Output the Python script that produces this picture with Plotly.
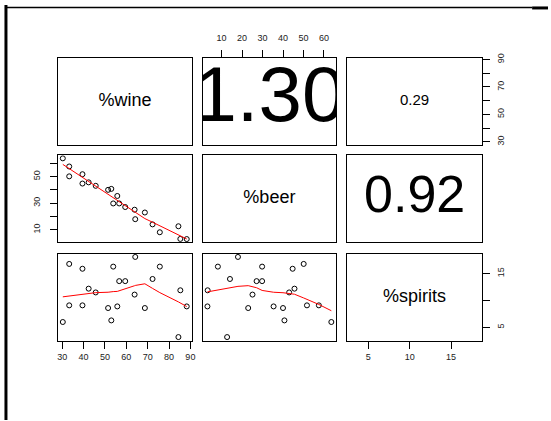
import numpy as np
import plotly.graph_objects as go

# Beverage shares (percent of total alcohol) for 21 countries
wine = [30.3, 33.3, 33.3, 39.5, 39.5, 42.4, 45.7, 51.5, 53.0, 53.9, 55.8,
        56.7, 59.5, 63.9, 64.2, 68.7, 72.3, 75.7, 84.4, 85.3, 88.3]
beer = [63.6, 57.5, 50.1, 51.7, 44.7, 45.6, 43.0, 40.0, 40.7, 29.8, 35.4,
        29.8, 27.1, 25.1, 18.0, 23.0, 14.1, 8.2, 12.7, 3.2, 3.1]
spirits = [6.0, 9.1, 16.8, 9.1, 15.9, 12.2, 11.5, 8.6, 6.3, 16.3, 8.9,
           13.6, 13.6, 11.1, 18.1, 8.6, 14.0, 16.3, 3.2, 11.9, 8.9]

var_names = ["%wine", "%beer", "%spirits"]
upper_text = {(0, 1): "1.30", (0, 2): "0.29", (1, 2): "0.92"}

wine_ticks = [30, 40, 50, 60, 70, 80, 90]
beer_ticks = [10, 20, 30, 40, 50, 60]
spirits_ticks = [5, 10, 15]


def lowess(x, y, f=2 / 3, nsteps=3, delta=None):
    """Port of the classic clowess smoother (as used by R's lowess)."""
    x = np.asarray(x, float)
    y = np.asarray(y, float)
    o = np.argsort(x, kind="stable")
    x, y = x[o], y[o]
    n = len(x)
    if delta is None:
        delta = 0.01 * (x[-1] - x[0])
    X = np.concatenate([[0.0], x])
    Y = np.concatenate([[0.0], y])
    ys = np.zeros(n + 1)
    rw = np.ones(n + 1)
    w = np.zeros(n + 1)
    res = np.zeros(n + 1)
    ns = max(2, min(n, int(f * n + 1e-7)))

    def lowest(xs, nleft, nright, userw):
        rng = X[n] - X[1]
        h = max(xs - X[nleft], X[nright] - xs)
        h9, h1 = 0.999 * h, 0.001 * h
        a = 0.0
        j = nleft
        while j <= n:
            w[j] = 0.0
            r = abs(X[j] - xs)
            if r <= h9:
                w[j] = 1.0 if r <= h1 else (1 - (r / h) ** 3) ** 3
                if userw:
                    w[j] *= rw[j]
                a += w[j]
            elif X[j] > xs:
                break
            j += 1
        nrt = j - 1
        if a <= 0:
            return None
        for j in range(nleft, nrt + 1):
            w[j] /= a
        if h > 0:
            a = sum(w[j] * X[j] for j in range(nleft, nrt + 1))
            b = xs - a
            c = sum(w[j] * (X[j] - a) ** 2 for j in range(nleft, nrt + 1))
            if np.sqrt(c) > 0.001 * rng:
                b /= c
                for j in range(nleft, nrt + 1):
                    w[j] *= b * (X[j] - a) + 1.0
        return sum(w[j] * Y[j] for j in range(nleft, nrt + 1))

    it = 1
    while it <= nsteps + 1:
        nleft, nright, last, i = 1, ns, 0, 1
        while True:
            if nright < n:
                d1 = X[i] - X[nleft]
                d2 = X[nright + 1] - X[i]
                if d1 > d2:
                    nleft += 1
                    nright += 1
                    continue
            v = lowest(X[i], nleft, nright, it > 1)
            ys[i] = Y[i] if v is None else v
            if last < i - 1:
                denom = X[i] - X[last]
                for j in range(last + 1, i):
                    al = (X[j] - X[last]) / denom
                    ys[j] = al * ys[i] + (1 - al) * ys[last]
            last = i
            cut = X[last] + delta
            i = last + 1
            while i <= n:
                if X[i] > cut:
                    break
                if X[i] == X[last]:
                    ys[i] = ys[last]
                    last = i
                i += 1
            i = max(last + 1, i - 1)
            if last >= n:
                break
        res[1:] = Y[1:] - ys[1:]
        sc = np.mean(np.abs(res[1:]))
        if it > nsteps:
            break
        ar = np.sort(np.abs(res[1:]))
        m1 = n // 2
        if n % 2 == 0:
            cmad = 3.0 * (ar[m1] + ar[n - m1 - 1])
        else:
            cmad = 6.0 * ar[m1]
        if cmad < 1e-7 * sc:
            break
        c9, c1 = 0.999 * cmad, 0.001 * cmad
        for k in range(1, n + 1):
            r = abs(res[k])
            if r <= c1:
                rw[k] = 1.0
            elif r <= c9:
                rw[k] = (1 - (r / cmad) ** 2) ** 2
            else:
                rw[k] = 0.0
        it += 1
    return x, ys[1:]


data = [wine, beer, spirits]
ranges = [[28.0, 90.9], [0.7, 66.0], [2.5, 18.7]]
ticks = [wine_ticks, beer_ticks, spirits_ticks]

W, H = 551, 421
col_px = [(57.3, 192.7), (203.0, 337.7), (349.0, 484.3)]
row_px = [(54.0, 141.7), (152.3, 240.7), (252.3, 340.7)]

tick_font = dict(family="Liberation Sans, Arial, sans-serif", size=9, color="#222")
text_font = "Liberation Sans, Arial, sans-serif"
upper_sizes = {(0, 1): 78, (0, 2): 15, (1, 2): 52}

fig = go.Figure()
layout = {}

for r in range(3):
    for c in range(3):
        k = r * 3 + c + 1
        xa = "x" if k == 1 else f"x{k}"
        ya = "y" if k == 1 else f"y{k}"
        xkey = "xaxis" if k == 1 else f"xaxis{k}"
        ykey = "yaxis" if k == 1 else f"yaxis{k}"
        x0, x1 = col_px[c]
        y0, y1 = row_px[r]
        xax = dict(domain=[x0 / W, x1 / W], range=ranges[c], anchor=ya,
                   showgrid=False, zeroline=False, showline=True, mirror=True,
                   linecolor="black", linewidth=1, showticklabels=False,
                   ticks="", fixedrange=True)
        yax = dict(domain=[1 - y1 / H, 1 - y0 / H], range=ranges[r], anchor=xa,
                   showgrid=False, zeroline=False, showline=True, mirror=True,
                   linecolor="black", linewidth=1, showticklabels=False,
                   ticks="", fixedrange=True)
        tick_style = dict(ticks="outside", ticklen=7, tickwidth=1,
                          tickcolor="black", showticklabels=True,
                          tickfont=tick_font)
        # x axes alternate bottom / top, y axes alternate right / left
        if r == 2 and c % 2 == 0:
            xax.update(tick_style, side="bottom", tickvals=ticks[c],
                       ticktext=[str(t) for t in ticks[c]])
        if r == 0 and c % 2 == 1:
            xax.update(tick_style, side="top", tickvals=ticks[c],
                       ticktext=[str(t) for t in ticks[c]],
                       ticklabelstandoff=6)
        if c == 2 and r % 2 == 0:
            tt = [str(t) if i % 2 == 0 else "" for i, t in enumerate(ticks[r])]
            yax.update(tick_style, side="right", tickvals=ticks[r],
                       ticktext=tt, tickangle=-90, ticklabelstandoff=3)
        if c == 0 and r % 2 == 1:
            tt = [str(t) if i % 2 == 0 else "" for i, t in enumerate(ticks[r])]
            yax.update(tick_style, side="left", tickvals=ticks[r],
                       ticktext=tt, tickangle=-90, ticklabelstandoff=6)
        layout[xkey] = xax
        layout[ykey] = yax

        cx = sum(ranges[c]) / 2
        cy = sum(ranges[r]) / 2
        if r == c:
            fig.add_trace(go.Scatter(
                x=[cx], y=[cy], mode="text", text=[var_names[r]],
                textfont=dict(family=text_font, size=18, color="black"),
                xaxis=xa, yaxis=ya, hoverinfo="skip", cliponaxis=True))
        elif r < c:
            fig.add_trace(go.Scatter(
                x=[cx], y=[cy], mode="text", text=[upper_text[(r, c)]],
                textfont=dict(family=text_font, size=upper_sizes[(r, c)],
                              color="black"),
                xaxis=xa, yaxis=ya, hoverinfo="skip", cliponaxis=True))
        else:
            fig.add_trace(go.Scatter(
                x=data[c], y=data[r], mode="markers",
                marker=dict(symbol="circle-open", size=5, color="black",
                            line=dict(width=1, color="black")),
                xaxis=xa, yaxis=ya, hoverinfo="skip", cliponaxis=True))
            sx, sy = lowess(data[c], data[r])
            fig.add_trace(go.Scatter(
                x=sx, y=sy, mode="lines", line=dict(color="red", width=1),
                xaxis=xa, yaxis=ya, hoverinfo="skip", cliponaxis=True))

# frame edges along the top and left of the page
shapes = [
    dict(type="line", xref="paper", yref="paper", x0=5 / W, x1=5 / W,
         y0=0, y1=1, line=dict(color="black", width=3)),
    dict(type="line", xref="paper", yref="paper", x0=4 / W, x1=535 / W,
         y0=1 - 2.5 / H, y1=1 - 2.5 / H, line=dict(color="black", width=1.5)),
    dict(type="line", xref="paper", yref="paper", x0=535 / W, x1=1,
         y0=1 - 3 / H, y1=1 - 3 / H, line=dict(color="black", width=3)),
]

fig.update_layout(
    width=W, height=H, margin=dict(l=0, r=0, t=0, b=0),
    paper_bgcolor="white", plot_bgcolor="white", showlegend=False,
    shapes=shapes, **layout)

fig.write_html("out.html")
